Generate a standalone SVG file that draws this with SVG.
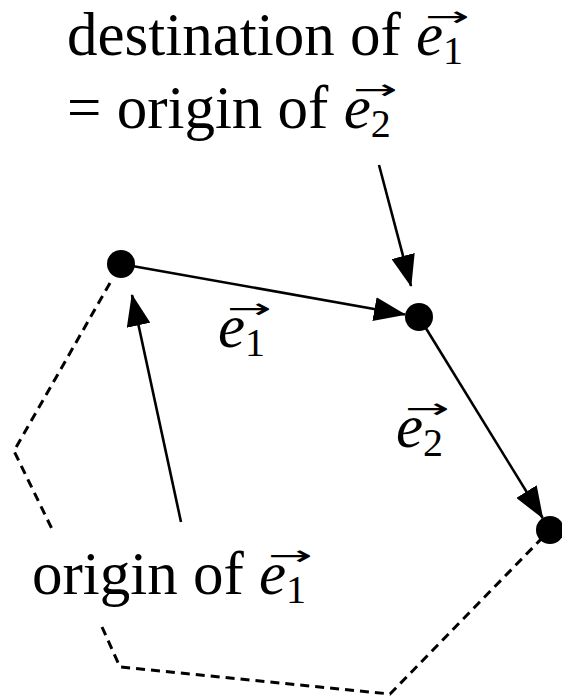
<svg xmlns="http://www.w3.org/2000/svg" width="562" height="698" viewBox="0 0 562 698">
<style>
.t{font-family:"Liberation Serif","Times New Roman",serif;font-size:61px;fill:#000}
.v{font-style:italic}
.s{font-size:40px}
.ar{font-family:"DejaVu Sans",sans-serif;font-size:28px;fill:#000}
.ln{stroke:#000;stroke-width:2.6;fill:none}
.dash{stroke:#000;stroke-width:3;fill:none;stroke-dasharray:9 6}
.dot{fill:#000}
</style>
<defs>
<marker id="ah" markerUnits="userSpaceOnUse" markerWidth="32" markerHeight="24" refX="31" refY="12" orient="auto" viewBox="0 0 32 24">
<path d="M0,0 L32,12 L0,24 z" fill="#000"/>
</marker>
</defs>
<rect width="562" height="698" fill="#fff"/>
<g id="connectors">
<path class="dash" d="M110,283 L14,451 L52,529"/>
<path class="dash" d="M102,627 L120,667 L390,694 L549,531"/>
<line id="e1" class="ln" x1="121" y1="264" x2="405" y2="314.5" marker-end="url(#ah)"/>
<line id="e2" class="ln" x1="419" y1="317" x2="542.7" y2="518" marker-end="url(#ah)"/>
<line id="ptr-dest" class="ln" x1="379" y1="165" x2="411" y2="286" marker-end="url(#ah)"/>
<line id="ptr-orig" class="ln" x1="181" y1="522" x2="132" y2="295" marker-end="url(#ah)"/>
</g>
<g id="node1"><circle class="dot" cx="121" cy="264" r="14"/></g>
<g id="node2"><circle class="dot" cx="419" cy="317" r="14"/></g>
<g id="node3"><circle class="dot" cx="550" cy="530" r="14"/></g>
<g id="label-dest">
<text class="t" x="67" y="55">destination of <tspan class="v">e</tspan><tspan class="s" dy="9">1</tspan></text>
<text class="ar" transform="translate(425,26) scale(1.9,1)">→</text>
<text class="t" x="67" y="128">= origin of <tspan class="v">e</tspan><tspan class="s" dy="9">2</tspan></text>
<text class="ar" transform="translate(353,99) scale(1.9,1)">→</text>
</g>
<g id="label-e1"><text class="t" x="218" y="347"><tspan class="v">e</tspan><tspan class="s" dy="9">1</tspan></text>
<text class="ar" transform="translate(227,318) scale(1.9,1)">→</text></g>
<g id="label-e2"><text class="t" x="396" y="447"><tspan class="v">e</tspan><tspan class="s" dy="9">2</tspan></text>
<text class="ar" transform="translate(405,418) scale(1.9,1)">→</text></g>
<g id="label-origin"><text class="t" x="32" y="594">origin of <tspan class="v">e</tspan><tspan class="s" dy="9">1</tspan></text>
<text class="ar" transform="translate(268,565) scale(1.9,1)">→</text></g>
</svg>
